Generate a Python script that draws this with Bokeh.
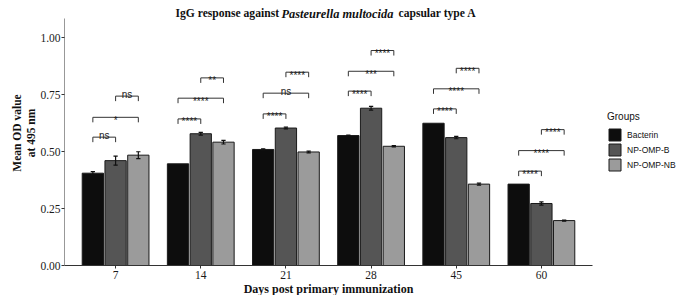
from bokeh.plotting import figure
from bokeh.models import (Range1d, FixedTicker, Legend, LegendItem, ColumnDataSource)
from bokeh.core.properties import value
from bokeh.embed import file_html
from bokeh.resources import INLINE

# ---------------- data ----------------
days = ["7", "14", "21", "28", "45", "60"]
groups = ["Bacterin", "NP-OMP-B", "NP-OMP-NB"]
bacterin = [0.405, 0.446, 0.509, 0.570, 0.624, 0.357]
np_omp_b = [0.460, 0.578, 0.603, 0.690, 0.561, 0.272]
np_omp_nb = [0.484, 0.541, 0.498, 0.523, 0.357, 0.197]
bacterin_se = [0.007, 0.0, 0.003, 0.002, 0.0, 0.0]
np_omp_b_se = [0.020, 0.006, 0.004, 0.008, 0.005, 0.007]
np_omp_nb_se = [0.015, 0.008, 0.004, 0.003, 0.004, 0.002]

# significance brackets per day: pair (1,2), (1,3), (2,3)
bracket_12 = [0.563, 0.643, 0.665, 0.765, 0.687, 0.414]
bracket_13 = [0.650, 0.734, 0.756, 0.852, 0.775, 0.504]
bracket_23 = [0.743, 0.823, 0.848, 0.943, 0.865, 0.596]
sig_12 = ["ns", "****", "****", "****", "****", "****"]
sig_13 = ["*", "****", "ns", "***", "****", "****"]
sig_23 = ["ns", "**", "****", "****", "****", "****"]

title_parts = ["IgG response against", "Pasteurella multocida", "capsular type A"]

# ---------------- style ----------------
colors = ["#0d0d0d", "#555555", "#9b9b9b"]
dodge = 0.267
bar_w = 0.25
tick_drop = 0.022
serif = "Liberation Serif"
sans = "Liberation Sans"
LEFT, RIGHT, BOTTOM = 64, 84, 30
FW = 592 - LEFT          # frame spans to x=592 as in the reference
PLOT_H = 247             # height of the data area (0 .. Y1)
EXTRA_TOP = 18           # room above the data area for the title
FH = PLOT_H + EXTRA_TOP
X0, X1, Y1 = 0.4, 6.6, 1.0835
YTOP = Y1 * FH / PLOT_H

p = figure(frame_width=FW, frame_height=FH, output_backend="svg", toolbar_location=None,
           x_range=Range1d(X0, X1), y_range=Range1d(0, YTOP),
           min_border_left=LEFT, min_border_right=RIGHT, min_border_top=0, min_border_bottom=BOTTOM)
p.background_fill_color = "white"
p.border_fill_color = "white"
p.outline_line_color = None
p.xgrid.visible = False
p.ygrid.visible = False

series = [bacterin, np_omp_b, np_omp_nb]
ses = [bacterin_se, np_omp_b_se, np_omp_nb_se]
offsets = [-dodge, 0.0, dodge]
renderers = []
for g, vals, se, off, col in zip(groups, series, ses, offsets, colors):
    xs = [i + 1 + off for i in range(len(days))]
    r = p.vbar(x=xs, top=vals, width=bar_w, fill_color=col, line_color="#1a1a1a", line_width=1)
    renderers.append(r)
    ex = [x for x, s in zip(xs, se) if s > 0]
    lo = [v - s for v, s in zip(vals, se) if s > 0]
    hi = [v + s for v, s in zip(vals, se) if s > 0]
    p.segment(x0=ex, y0=lo, x1=ex, y1=hi, line_color="#111111", line_width=1.2)
    p.segment(x0=[x - 0.025 for x in ex], y0=lo, x1=[x + 0.025 for x in ex], y1=lo, line_color="#111111", line_width=1.2)
    p.segment(x0=[x - 0.025 for x in ex], y0=hi, x1=[x + 0.025 for x in ex], y1=hi, line_color="#111111", line_width=1.2)

# brackets
bx0, bx1, by, blab = [], [], [], []
for heights, labs, (a, b) in [(bracket_12, sig_12, (0, 1)), (bracket_13, sig_13, (0, 2)), (bracket_23, sig_23, (1, 2))]:
    for i in range(len(days)):
        bx0.append(i + 1 + offsets[a])
        bx1.append(i + 1 + offsets[b])
        by.append(heights[i])
        blab.append(labs[i])
xs_lines = [[a, a, b, b] for a, b in zip(bx0, bx1)]
ys_lines = [[y - tick_drop, y, y, y - tick_drop] for y in by]
p.multi_line(xs=xs_lines, ys=ys_lines, line_color="#333333", line_width=1)
yoff = [-2 if t == "ns" else 3 for t in blab]
src = ColumnDataSource(dict(x=[(a + b) / 2 for a, b in zip(bx0, bx1)], y=by, t=blab, yo=yoff))
p.text(x="x", y="y", text="t", y_offset="yo", source=src, text_align="center", text_baseline="alphabetic",
       text_font=value(sans), text_font_size="10px", text_color="#1a1a1a")

# axes
p.xaxis.ticker = FixedTicker(ticks=list(range(1, len(days) + 1)))
p.xaxis.major_label_overrides = {i + 1: d for i, d in enumerate(days)}
p.yaxis.ticker = FixedTicker(ticks=[0, 0.25, 0.5, 0.75, 1.0])
p.yaxis.major_label_overrides = {0: "0.00", 0.25: "0.25", 0.5: "0.50", 0.75: "0.75", 1.0: "1.00"}
for ax in (p.xaxis[0], p.yaxis[0]):
    ax.axis_line_color = "#333333"
    ax.major_tick_line_color = "#333333"
    ax.major_tick_out = 3
    ax.major_tick_in = 0
    ax.minor_tick_line_color = None
    ax.major_label_text_font = serif
    ax.major_label_text_font_size = "11.5px"
    ax.major_label_text_color = "#1a1a1a"
    ax.axis_label_text_font = serif
    ax.axis_label_text_font_style = "bold"
    ax.axis_label_text_color = "#111111"
p.xaxis.axis_label_text_font_size = "12px"
p.yaxis.axis_label_text_font_size = "11.5px"
p.xaxis.major_label_standoff = 2
p.xaxis.axis_label_standoff = 0
p.yaxis.major_label_standoff = 1
p.yaxis.axis_label_standoff = 0
p.xaxis.axis_label = "Days post primary immunization"
p.yaxis.axis_label = "Mean OD value\nat 495 nm"
# y axis line only over the data area (the title sits above it)
p.yaxis.axis_line_color = None
p.segment(x0=[X0], y0=[0], x1=[X0], y1=[Y1], line_color="#333333", line_width=1)


# title in three runs (plain / italic / plain) drawn as text just above the data area
def px_to_x(px):
    return X0 + (px - LEFT) / FW * (X1 - X0)


title_y = Y1 + 5 / PLOT_H * Y1
tsrc = ColumnDataSource(dict(x=[px_to_x(175), px_to_x(281), px_to_x(398)], y=[title_y] * 3, t=title_parts,
                             st=["bold", "bold italic", "bold"], fs=["11.6px", "12.4px", "11.6px"]))
p.text(x="x", y="y", text="t", source=tsrc, text_font=value(serif), text_font_style="st",
       text_font_size="fs", text_color="#111111", text_baseline="alphabetic", text_align="left")

legend = Legend(items=[LegendItem(label=g, renderers=[r]) for g, r in zip(groups, renderers)],
                title="Groups", location=(15, 93), orientation="vertical")
legend.title_text_font = sans
legend.title_text_font_size = "10px"
legend.title_text_font_style = "normal"
legend.title_text_color = "#111111"
legend.title_standoff = 5
legend.label_text_font = sans
legend.label_text_font_size = "8.5px"
legend.label_text_color = "#111111"
legend.glyph_width = 15
legend.glyph_height = 15
legend.label_height = 15
legend.label_standoff = 5
legend.spacing = 0
legend.padding = 0
legend.margin = 0
legend.border_line_color = None
legend.background_fill_alpha = 0
p.add_layout(legend, "right")

open("out.html", "w").write(file_html(p, INLINE))
